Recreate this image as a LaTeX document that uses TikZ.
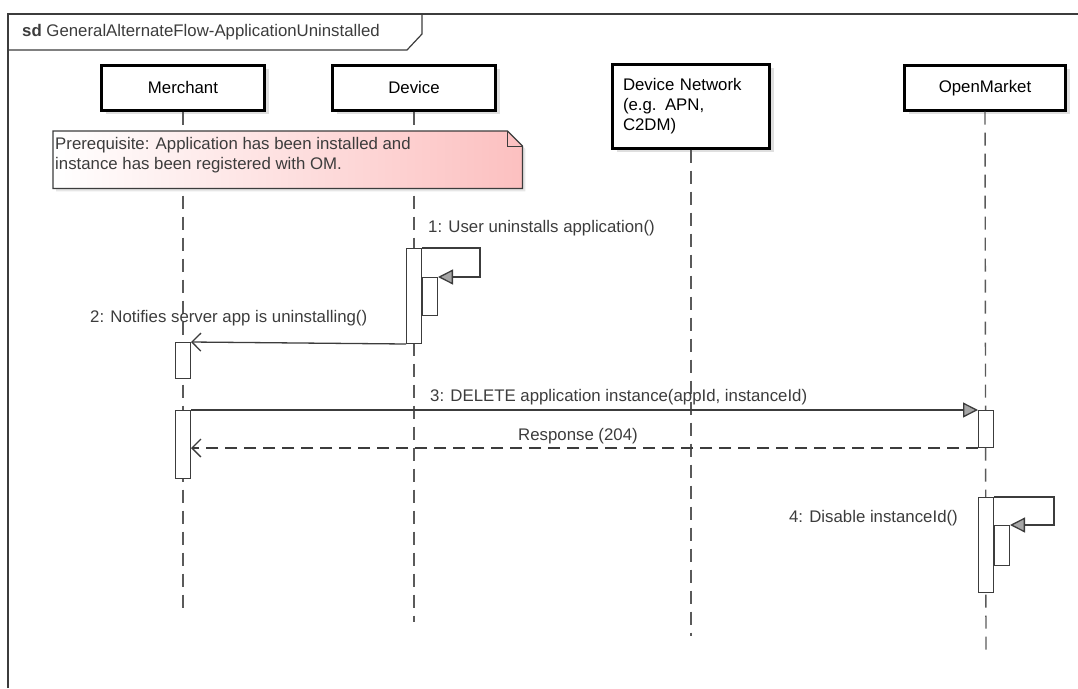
\documentclass[tikz,border=0pt]{standalone}
\usepackage{fontspec}
\setmainfont{Liberation Sans}
\usetikzlibrary{arrows.meta,shadows,positioning}
\definecolor{inkgray}{RGB}{60,60,60}
\definecolor{lifegray}{RGB}{90,90,90}
\definecolor{notepink}{RGB}{252,192,192}
\tikzstyle{frameline}=[draw=inkgray,line width=1.2pt]
\tikzstyle{head}=[rectangle,draw=black,line width=2.6pt,fill=white,minimum width=163pt,minimum height=45pt,drop shadow={shadow xshift=4pt,shadow yshift=-4pt,opacity=0.25,fill=gray}]
\tikzstyle{lifeline}=[draw=lifegray,line width=1.4pt,dash pattern=on 13pt off 8pt]
\tikzstyle{act}=[rectangle,draw=inkgray,line width=1pt,fill=white,minimum width=15pt,inner sep=0pt]
\tikzstyle{msg}=[draw=inkgray,line width=1.3pt]
\tikzstyle{call}=[msg,-{Triangle[length=15pt,width=15pt,fill=gray!70]}]
\tikzstyle{reply}=[msg,-{Straight Barb[length=9pt,width=18pt]}]
\tikzstyle{label}=[text=inkgray,inner sep=0pt]

\begin{document}
\begin{tikzpicture}[x=1pt,y=-1pt,font=\fontsize{16.8}{20}\selectfont]
\useasboundingbox (0,0) rectangle (1078,688);
% frame with its name tab
\draw[frameline] (8,688) -- (8,14) -- (1078,14);
\draw[frameline] (8,50) -- (407,50) -- (422,34) -- (422,14);
\node[label,anchor=west] (title) at (22,32) {\textbf{sd} GeneralAlternateFlow-ApplicationUninstalled};

% heads of the lifelines
\node[head,anchor=north] (merchant) at (183,64) {Merchant};
\node[head,anchor=north] (device) at (414,64) {Device};
\node[head,anchor=north,minimum width=157pt,minimum height=84pt,text width=136pt,align=left,inner sep=0pt] (network) at (691,63)
    {Device Network\\(e.g. APN,\\C2DM)\\[8pt]};
\node[head,anchor=north,minimum width=161pt] (openmarket) at (985,64) {OpenMarket};

\coordinate (merchantEnd) at (183,610);
\coordinate (deviceEnd) at (414,622);
\coordinate (networkEnd) at (691,636);
\coordinate (openmarketEnd) at (986,652);
\draw[lifeline] (merchant.south) -- (merchantEnd);
\draw[lifeline] (device.south) -- (deviceEnd);
\draw[lifeline] (network.south) -- (networkEnd);
\draw[lifeline] (openmarket.south) -- (openmarketEnd);

% prerequisite note
\node[minimum width=469pt,minimum height=57pt,anchor=north west,inner sep=0pt] (note) at (53,131) {};
\path[draw=inkgray,line width=1.2pt,left color=white,right color=notepink,drop shadow={shadow xshift=3pt,shadow yshift=-3pt,opacity=0.2,fill=gray}]
    (note.north west) -- ([xshift=-15pt]note.north east) -- ([yshift=-15pt]note.north east)
    -- (note.south east) -- (note.south west) -- cycle;
\draw[draw=inkgray,line width=1pt] ([xshift=-15pt]note.north east) -- ([xshift=-15pt,yshift=-15pt]note.north east) -- ([yshift=-15pt]note.north east);
\node[label,anchor=north west,align=left] (noteText) at (55,137)
    {Prerequisite: Application has been installed and\\instance has been registered with OM.};

% activations
\node[act,minimum height=95pt,anchor=north] (devAct) at (414,248) {};
\node[act,minimum height=38pt,anchor=north west] (devSub) at (devAct.north east |- 0,277) {};
\node[act,minimum height=36pt,anchor=north] (merAct) at (183,342) {};
\node[act,minimum height=68pt,anchor=north] (merAct2) at (183,410) {};
\node[act,minimum height=37pt,anchor=north] (omAct) at (986,410) {};
\node[act,minimum height=95pt,anchor=north] (omAct2) at (986,497) {};
\node[act,minimum height=40pt,anchor=north west] (omSub) at (omAct2.north east |- 0,525) {};

% messages
\draw[call] (devAct.north east) -- ++(58,0) |- (devSub.north east);
\node[label,anchor=west] (msgOne) at (428,228) {1: User uninstalls application()};

\draw[reply] (devAct.south west) -- (merAct.north east);
\node[label,anchor=west] (msgTwo) at (90,318) {2: Notifies server app is uninstalling()};

\draw[call] (merAct2.north east) -- (omAct.north west);
\node[label,anchor=west] (msgThree) at (430,397) {3: DELETE application instance(appId, instanceId)};

\draw[reply,dash pattern=on 12pt off 7pt] (omAct.south west) -- (merAct2.north east |- omAct.south west);
\node[label,anchor=west] (msgReply) at (518,436) {Response (204)};

\draw[call] (omAct2.north east) -- ++(60,0) |- (omSub.north east);
\node[label,anchor=east] (msgFour) at (958,518) {4: Disable instanceId()};
\end{tikzpicture}
\end{document}
